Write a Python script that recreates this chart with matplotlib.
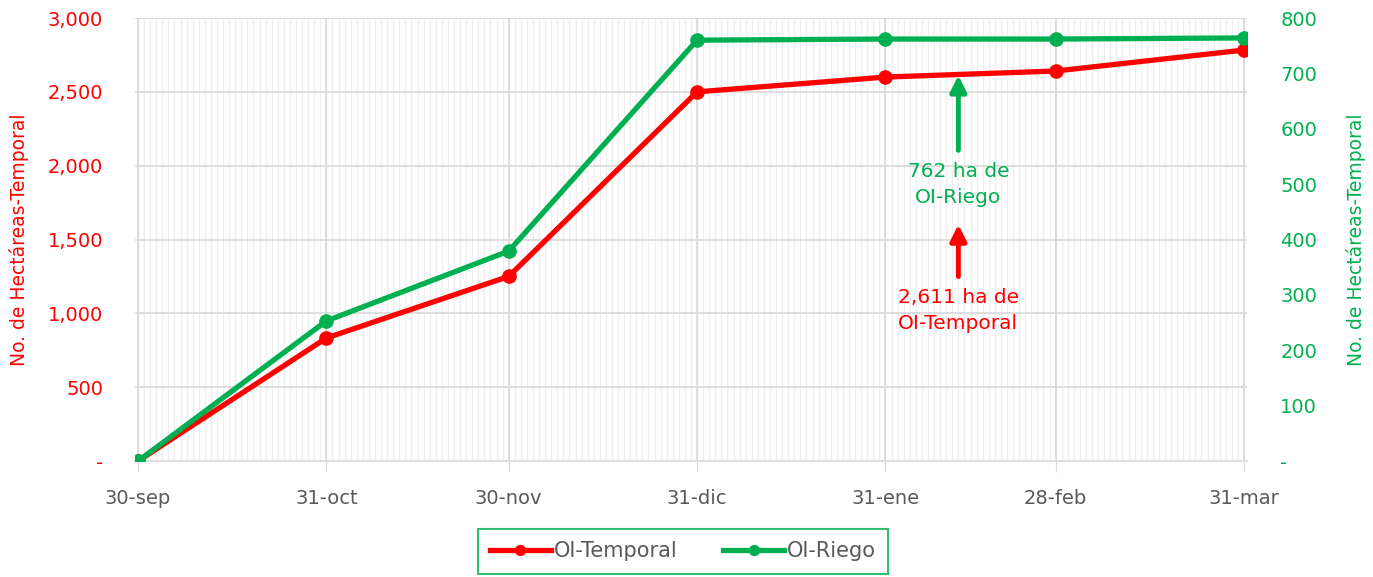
import numpy as np
import matplotlib.pyplot as plt
import matplotlib.dates as mdates
import matplotlib.ticker as mticker

plt.rcParams['font.family'] = ['DejaVu Sans']

# Data
fechas = np.array(['2022-09-30', '2022-10-31', '2022-11-30', '2022-12-31',
                   '2023-01-31', '2023-02-28', '2023-03-31'], dtype='datetime64[D]')
etiquetas = ['30-sep', '31-oct', '30-nov', '31-dic', '31-ene', '28-feb', '31-mar']
temporal = [0, 833, 1250, 2500, 2600, 2641, 2783]
riego = [0, 253, 379, 760, 762, 762, 764]

rojo = '#FF0000'
verde = '#00B050'
gris = '#595959'

fig = plt.figure(figsize=(13.73, 5.77), dpi=100)
ax = fig.add_axes([135/1373, 1-461/577, (1247-135)/1373, (461-18)/577])
ax2 = ax.twinx()

x = mdates.date2num(fechas)

# grid: daily minor vertical lines, monthly major
dias = np.arange(x[0], x[-1] + 1)
for d in dias:
    ax.axvline(d, color='#efefef', lw=1, zorder=0)
for d in x:
    ax.axvline(d, color='#d9d9d9', lw=1.2, zorder=0.5)
for v in np.arange(500, 3001, 500):
    ax.axhline(v, color='#d9d9d9', lw=1.2, zorder=0.5)

l1, = ax.plot(x, temporal, color=rojo, lw=3.8, marker='o', ms=9.5, zorder=3, label='OI-Temporal')
l2, = ax2.plot(x, riego, color=verde, lw=3.8, marker='o', ms=9.5, zorder=3, label='OI-Riego')

ax.set_xlim(x[0] - 0.5, x[-1] + 0.5)
ax.set_ylim(0, 3000)
ax2.set_ylim(0, 800)

ax.set_xticks(x)
ax.set_xticklabels(etiquetas, color=gris, fontsize=14)
ax.tick_params(axis='x', length=8, color='#d9d9d9', pad=12)

fmt_l = mticker.FuncFormatter(lambda v, p: '-' if v == 0 else f'{v:,.0f}')
ax.set_yticks(np.arange(0, 3001, 500))
ax.yaxis.set_major_formatter(fmt_l)
ax.tick_params(axis='y', length=0, colors=rojo, labelsize=14, pad=23)
ax2.set_yticks(np.arange(0, 801, 100))
ax2.yaxis.set_major_formatter(fmt_l)
ax2.tick_params(axis='y', length=0, colors=verde, labelsize=14, pad=24)

for a in (ax, ax2):
    for s in a.spines.values():
        s.set_visible(False)
ax.spines['bottom'].set_visible(True)
ax.spines['bottom'].set_color('#d9d9d9')
ax.spines['bottom'].set_linewidth(1.2)

ax.set_ylabel('No. de Hectáreas-Temporal', color=rojo, fontsize=13.5, labelpad=13)
ax2.set_ylabel('No. de Hectáreas-Temporal', color=verde, fontsize=13.5, labelpad=21)

# annotations
xa = mdates.date2num(np.datetime64('2023-02-12'))
ax.annotate('', xy=(xa, 2630), xytext=(xa, 2085),
            arrowprops=dict(arrowstyle='-|>', color=verde, lw=3.5, mutation_scale=24))
ax.text(xa, 1870, '762 ha de\nOI-Riego', color=verde, fontsize=14.5, ha='center', va='center',
        linespacing=1.45)
ax.annotate('', xy=(xa, 1620), xytext=(xa, 1230),
            arrowprops=dict(arrowstyle='-|>', color=rojo, lw=3.5, mutation_scale=24))
ax.text(xa, 1020, '2,611 ha de\nOI-Temporal', color=rojo, fontsize=14.5, ha='center', va='center',
        linespacing=1.45)

leg = fig.legend(handles=[l1, l2], loc='center', bbox_to_anchor=(683/1373, 1-551/577),
                 ncol=2, fontsize=15, frameon=True, fancybox=False, handlelength=2.9,
                 handletextpad=0.15, borderpad=0.6, borderaxespad=0, columnspacing=2.2,
                 markerscale=0.75)
leg.get_frame().set_edgecolor(verde)
leg.get_frame().set_linewidth(1.5)
for t in leg.get_texts():
    t.set_color(gris)

fig.savefig('out.png', dpi=100)
